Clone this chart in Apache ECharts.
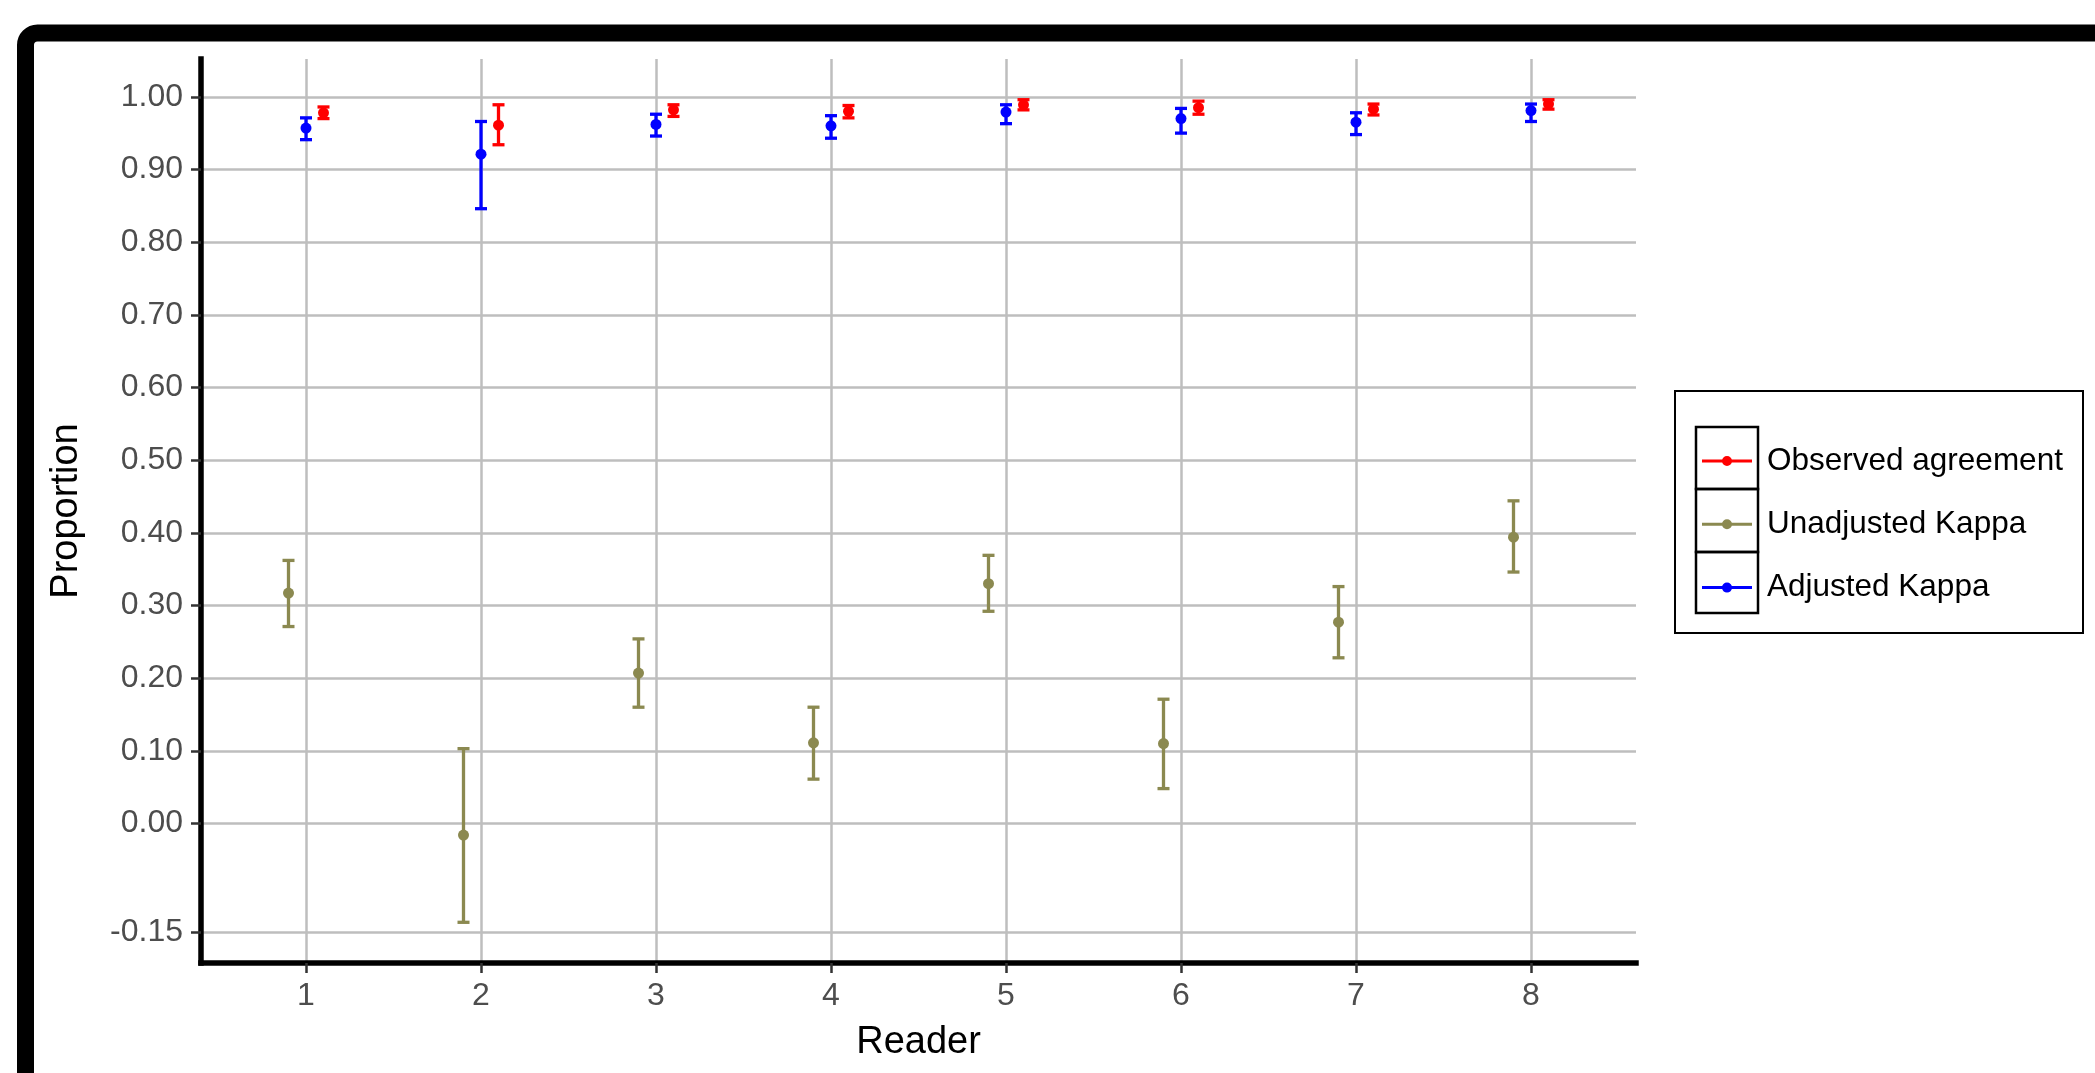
<!DOCTYPE html>
<html><head><meta charset="utf-8">
<script src="https://cdn.jsdelivr.net/npm/echarts@6/dist/echarts.min.js"></script>
<style>html,body{margin:0;padding:0;background:#fff;overflow:hidden}#c{width:2095px;height:1073px}</style>
</head><body><div id="c"></div>
<script>
// ---- data ----
const readers = [1, 2, 3, 4, 5, 6, 7, 8];
const xTicks = [1, 2, 3, 4, 5, 6, 7, 8];
const yTicks = [-0.15, 0.00, 0.10, 0.20, 0.30, 0.40, 0.50, 0.60, 0.70, 0.80, 0.90, 1.00];

const observed   = [0.978, 0.961, 0.982, 0.980, 0.989, 0.985, 0.983, 0.990];
const observedLo = [0.970, 0.934, 0.973, 0.971, 0.982, 0.976, 0.975, 0.983];
const observedHi = [0.986, 0.989, 0.989, 0.988, 0.996, 0.994, 0.990, 0.996];

const unadjusted   = [0.317, -0.016, 0.207, 0.111, 0.330, 0.110, 0.277, 0.394];
const unadjustedLo = [0.271, -0.136, 0.160, 0.061, 0.292, 0.048, 0.228, 0.346];
const unadjustedHi = [0.362, 0.103, 0.254, 0.160, 0.369, 0.171, 0.326, 0.444];

const adjusted   = [0.957, 0.921, 0.962, 0.960, 0.979, 0.970, 0.965, 0.981];
const adjustedLo = [0.941, 0.846, 0.946, 0.943, 0.963, 0.950, 0.948, 0.966];
const adjustedHi = [0.971, 0.966, 0.976, 0.974, 0.989, 0.984, 0.978, 0.990];

const seriesNames = ['Observed agreement', 'Unadjusted Kappa', 'Adjusted Kappa'];
const seriesColors = ['#ff0000', '#8b8950', '#0000ff'];
const dodgeOffsets = [0.1, -0.1, 0];

// ---- build ----
const groups = [
  { mid: observed, lo: observedLo, hi: observedHi },
  { mid: unadjusted, lo: unadjustedLo, hi: unadjustedHi },
  { mid: adjusted, lo: adjustedLo, hi: adjustedHi }
];

const FONT = '"Liberation Sans", Arial, Helvetica, sans-serif';
const series = [];
groups.forEach((g, gi) => {
  series.push({
    name: seriesNames[gi],
    type: 'scatter',
    z: 4,
    symbol: 'circle',
    symbolSize: 11,
    itemStyle: { color: seriesColors[gi], opacity: 1 },
    emphasis: { disabled: true },
    data: readers.map((r, i) => [r + dodgeOffsets[gi], g.mid[i]])
  });
});
groups.forEach((g, gi) => {
  const col = seriesColors[gi];
  series.push({
    name: seriesNames[gi],
    type: 'custom',
    z: 3,
    itemStyle: { color: col },
    encode: { x: 0, y: [1, 2] },
    data: readers.map((r, i) => [r + dodgeOffsets[gi], g.lo[i], g.hi[i]]),
    renderItem: function (params, api) {
      const x = api.value(0);
      const pLo = api.coord([x, api.value(1)]);
      const pHi = api.coord([x, api.value(2)]);
      const hw = 6;
      const st = { stroke: col, lineWidth: 3.3, fill: null };
      return {
        type: 'group',
        children: [
          { type: 'line', shape: { x1: pLo[0], y1: pLo[1], x2: pHi[0], y2: pHi[1] }, style: st },
          { type: 'line', shape: { x1: pLo[0] - hw, y1: pLo[1], x2: pLo[0] + hw, y2: pLo[1] }, style: st },
          { type: 'line', shape: { x1: pHi[0] - hw, y1: pHi[1], x2: pHi[0] + hw, y2: pHi[1] }, style: st }
        ]
      };
    }
  });
});

const chart = echarts.init(document.getElementById('c'), null, { renderer: 'canvas' });
chart.setOption({
  animation: false,
  backgroundColor: '#ffffff',
  textStyle: { fontFamily: FONT },
  grid: { left: 201, right: 459, top: 59, bottom: 110, containLabel: false, outerBoundsMode: 'none' },
  xAxis: {
    type: 'value',
    min: 0.4,
    max: 8.6,
    name: 'Reader',
    nameLocation: 'middle',
    nameGap: 61,
    nameTextStyle: { fontSize: 38, color: '#000', fontFamily: FONT },
    axisLine: { show: true, onZero: false, lineStyle: { color: '#000', width: 5.5, cap: 'square' } },
    axisTick: { show: true, customValues: xTicks, length: 10, lineStyle: { color: '#333', width: 2.5 } },
    axisLabel: { show: true, customValues: xTicks, margin: 17, fontSize: 32, color: '#4d4d4d', fontFamily: FONT,
      formatter: v => String(Math.round(v)) },
    splitLine: { show: true, lineStyle: { color: '#bebebe', width: 2.5 } }
  },
  yAxis: {
    type: 'value',
    min: -0.192,
    max: 1.052,
    name: 'Proportion',
    nameLocation: 'middle',
    nameGap: 115,
    nameRotate: 90,
    nameTextStyle: { fontSize: 38, color: '#000', fontFamily: FONT },
    axisLine: { show: true, onZero: false, lineStyle: { color: '#000', width: 5.5, cap: 'square' } },
    axisTick: { show: true, customValues: yTicks, length: 10, lineStyle: { color: '#333', width: 2.5 } },
    axisLabel: { show: true, customValues: yTicks, margin: 18, fontSize: 32, color: '#4d4d4d', fontFamily: FONT,
      formatter: v => v.toFixed(2) },
    splitLine: { show: true, lineStyle: { color: '#bebebe', width: 2.5 } }
  },
  legend: {
    data: seriesNames,
    orient: 'vertical',
    left: 1702,
    top: 445,
    padding: 0,
    itemWidth: 50,
    itemHeight: 10,
    itemGap: 31.3,
    selectedMode: false,
    icon: 'path://M0,3.5L50,3.5L50,6.5L0,6.5Z M20,5A5,5,0,1,1,30,5A5,5,0,1,1,20,5Z',
    textStyle: { fontSize: 31.5, lineHeight: 31, color: '#000', fontFamily: FONT, padding: [0, 0, 0, 10] }
  },
  graphic: [
    { type: 'rect', silent: true, z: -1, shape: { x: 25.5, y: 33, width: 2300, height: 1300, r: 12 },
      style: { fill: null, stroke: '#000', lineWidth: 17 } },
    { type: 'rect', silent: true, shape: { x: 1675, y: 391, width: 408, height: 242 },
      style: { fill: null, stroke: '#000', lineWidth: 2 } },
    { type: 'rect', silent: true, shape: { x: 1696, y: 427, width: 62, height: 62 },
      style: { fill: null, stroke: '#000', lineWidth: 2.5 } },
    { type: 'rect', silent: true, shape: { x: 1696, y: 489, width: 62, height: 63 },
      style: { fill: null, stroke: '#000', lineWidth: 2.5 } },
    { type: 'rect', silent: true, shape: { x: 1696, y: 552, width: 62, height: 61 },
      style: { fill: null, stroke: '#000', lineWidth: 2.5 } }
  ],
  series: series
});
</script>
</body></html>
